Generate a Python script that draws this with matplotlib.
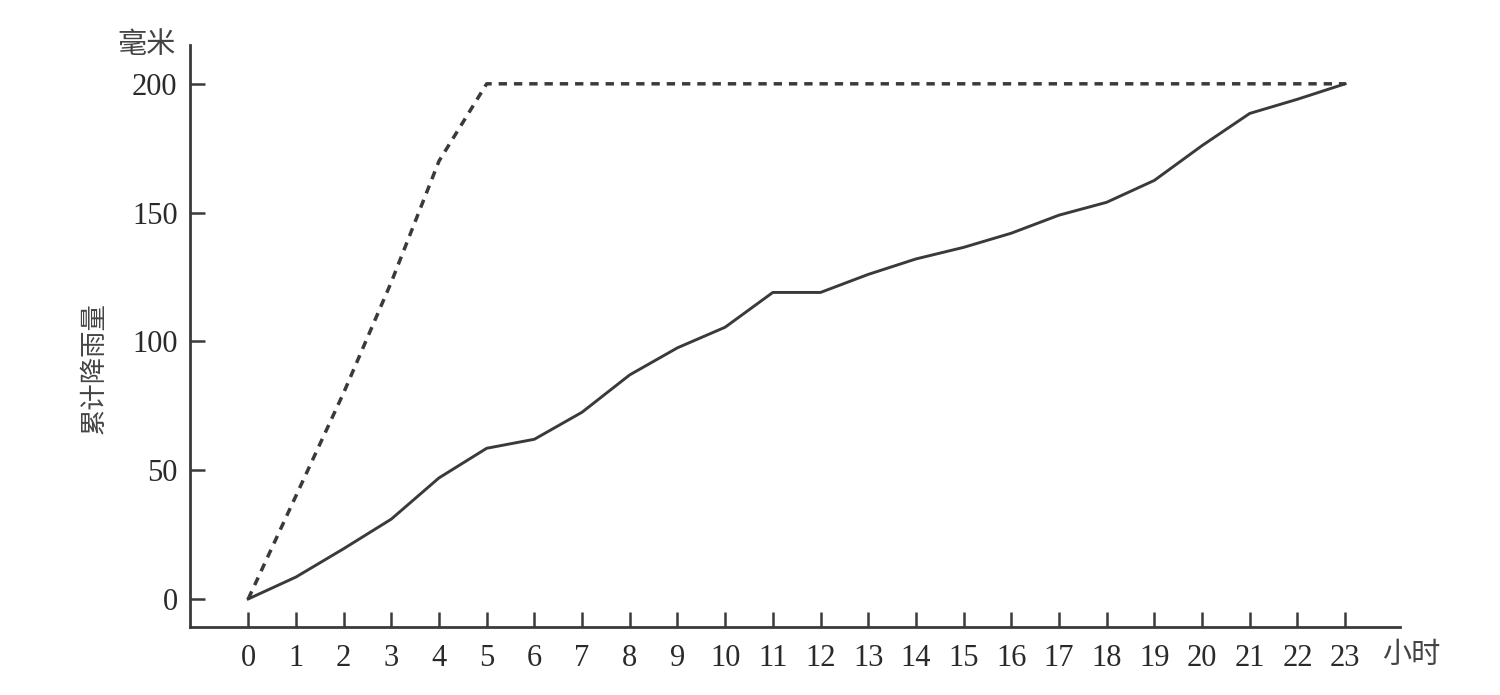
import matplotlib
matplotlib.use("Agg")
import matplotlib.pyplot as plt

plt.rcParams['font.family'] = ['Liberation Serif', 'Noto Sans CJK SC']

hours = list(range(24))
hour_labels = [str(h) for h in hours]
# cumulative rainfall (mm), solid curve
actual = [0, 8.5, 19.5, 31, 47, 58.5, 62, 72.5, 87, 97.5, 105.5, 119, 119,
          126, 132, 136.5, 142, 149, 154, 162.5, 176, 188.5, 194, 200]
# dashed curve
design = [0, 40, 80, 123, 170, 200, 200, 200, 200, 200, 200, 200, 200,
          200, 200, 200, 200, 200, 200, 200, 200, 200, 200, 200]
y_ticks = [0, 50, 100, 150, 200]

line_color = '#3a3a3a'
cjk = ['Noto Sans CJK SC']

fig = plt.figure(figsize=(15, 6.95), dpi=100)
ax = fig.add_axes([0.1267, 0.0978, 0.8066, 0.8372])

ax.plot(hours, design, color=line_color, lw=2.5, ls=(0, (2.4, 2.0)))
ax.plot(hours, actual, color=line_color, lw=2.1)

ax.set_xlim(-1.22, 24.15)
ax.set_ylim(-10.9, 215)
ax.set_xticks(hours)
ax.set_xticklabels(hour_labels)
ax.set_yticks(y_ticks)

for side in ['top', 'right']:
    ax.spines[side].set_visible(False)
for side in ['left', 'bottom']:
    ax.spines[side].set_linewidth(2.0)
    ax.spines[side].set_color(line_color)

ax.tick_params(axis='both', direction='in', length=11, width=1.8,
               colors=line_color, labelsize=22, labelcolor='#2a2a2a')
ax.tick_params(axis='x', pad=12)
ax.tick_params(axis='y', pad=9)

fig.text(0.098, 0.935, '毫米', family=cjk, fontsize=21, color='#444444',
         ha='center', va='center')
fig.text(0.9407, 0.0576, '小时', family=cjk, fontsize=21, color='#444444',
         ha='center', va='center')
fig.text(0.063, 0.47, '累计降雨量', family=cjk, fontsize=19, color='#444444',
         rotation=90, ha='center', va='center')

fig.savefig('out.png', dpi=100, facecolor='white')
